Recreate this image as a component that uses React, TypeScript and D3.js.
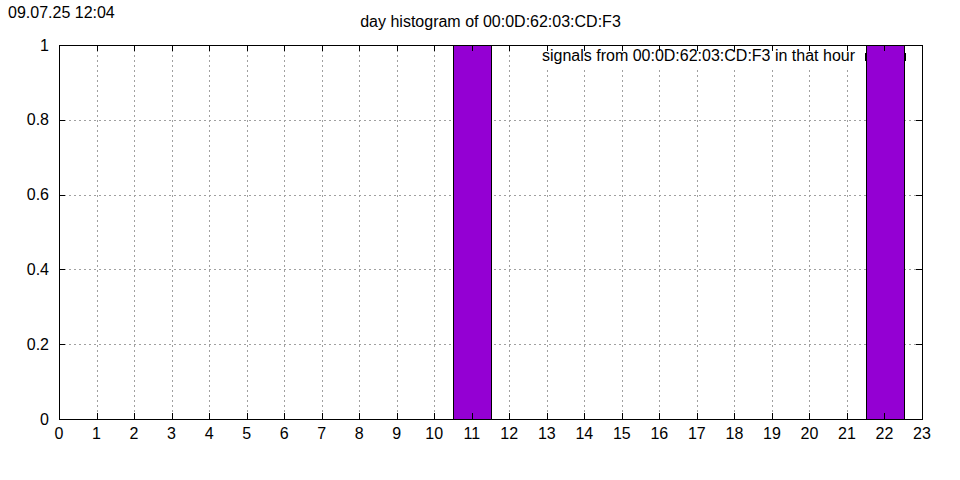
import React from 'react';
import * as d3 from 'd3';

// hours of the day and signals seen in each hour
const hours: number[] = d3.range(0, 24);
const counts: number[] = [0, 0, 0, 0, 0, 0, 0, 0, 0, 0, 0, 1, 0, 0, 0, 0, 0, 0, 0, 0, 0, 0, 1, 0];
const yTicks: number[] = [0, 0.2, 0.4, 0.6, 0.8, 1];
const xTicks: number[] = d3.range(0, 24);

const title = 'day histogram of 00:0D:62:03:CD:F3';
const stamp = '09.07.25 12:04';
const legendLabel = 'signals from 00:0D:62:03:CD:F3 in that hour';

const W = 960;
const H = 480;
const margin = { left: 59, right: 38, top: 45, bottom: 61 };
const FONT = '"Liberation Sans", Arial, sans-serif';
const BAR = '#9400d3';

const App: React.FC = () => {
    const x = d3.scaleLinear().domain([0, 23]).range([margin.left, W - margin.right]);
    const y = d3.scaleLinear().domain([0, 1]).range([H - margin.bottom, margin.top]);
    const [x0, x1] = x.range();
    const [y0, y1] = y.range();
    const tick = 6;

    return (
        <div style={{ position: 'fixed', left: 0, top: 0 }}>
            <svg width={W} height={H} style={{ display: 'block', background: '#fff' }} fontFamily={FONT}>
                <text x={8} y={18} fontSize={16}>{stamp}</text>
                <text x={(x0 + x1) / 2} y={27} fontSize={16} textAnchor="middle">{title}</text>

                {/* grid */}
                <g stroke="#a0a0a0" strokeWidth={1} strokeDasharray="2,3">
                    {xTicks.slice(1, -1).map(t => (
                        <line key={'gx' + t} x1={Math.round(x(t)) + 0.5} x2={Math.round(x(t)) + 0.5} y1={y1} y2={y0} />
                    ))}
                    {yTicks.slice(1, -1).map(t => (
                        <line key={'gy' + t} x1={x0} x2={x1} y1={Math.round(y(t)) + 0.5} y2={Math.round(y(t)) + 0.5} />
                    ))}
                </g>

                {/* legend box (opaque) and key, under the bars */}
                <rect x={536} y={y1 + 1} width={375} height={22} fill="#fff" />
                <rect x={865.5} y={53.5} width={40} height={7} fill={BAR} stroke="#000" strokeWidth={1} />

                {/* bars */}
                <g>
                    {hours.map((h, i) => counts[i] > 0 && (
                        <rect key={h}
                            x={Math.round(Math.max(x0, x(h - 0.5))) + 0.5}
                            y={Math.round(y(counts[i])) + 0.5}
                            width={Math.round(Math.min(x1, x(h + 0.5)) - Math.max(x0, x(h - 0.5)))}
                            height={Math.round(y(0) - y(counts[i]))}
                            fill={BAR} stroke="#000" strokeWidth={1} />
                    ))}
                </g>

                {/* ticks, mirrored, pointing inward */}
                <g stroke="#000" strokeWidth={1}>
                    {xTicks.map(t => (
                        <g key={'tx' + t}>
                            <line x1={Math.round(x(t)) + 0.5} x2={Math.round(x(t)) + 0.5} y1={y0} y2={y0 - tick} />
                            <line x1={Math.round(x(t)) + 0.5} x2={Math.round(x(t)) + 0.5} y1={y1} y2={y1 + tick} />
                        </g>
                    ))}
                    {yTicks.map(t => (
                        <g key={'ty' + t}>
                            <line x1={x0} x2={x0 + tick} y1={Math.round(y(t)) + 0.5} y2={Math.round(y(t)) + 0.5} />
                            <line x1={x1} x2={x1 - tick} y1={Math.round(y(t)) + 0.5} y2={Math.round(y(t)) + 0.5} />
                        </g>
                    ))}
                </g>

                <rect x={x0 + 0.5} y={y1 + 0.5} width={x1 - x0} height={y0 - y1} fill="none" stroke="#000" strokeWidth={1} />

                {/* tick labels */}
                <g fontSize={16} fill="#000">
                    {xTicks.map(t => (
                        <text key={'lx' + t} x={x(t)} y={y0 + 20} textAnchor="middle">{t}</text>
                    ))}
                    {yTicks.map(t => (
                        <text key={'ly' + t} x={x0 - 10} y={y(t) + 5.5} textAnchor="end">{d3.format('~g')(t)}</text>
                    ))}
                </g>

                {/* legend text */}
                <text x={855} y={61} fontSize={16} textAnchor="end">{legendLabel}</text>
            </svg>
        </div>
    );
};

export default App;
